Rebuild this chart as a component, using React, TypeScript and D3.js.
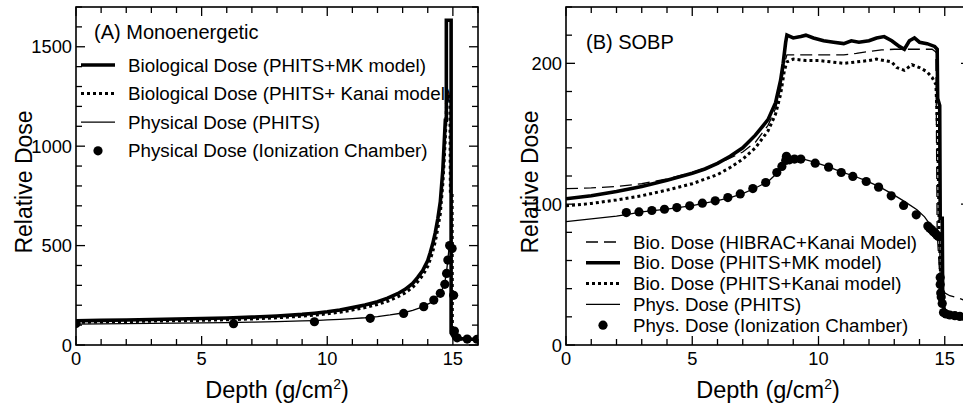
import React from "react";
import * as d3 from "d3";

// ---------- DATA ----------
// Panel A (Monoenergetic): [depth g/cm2, relative dose]
const monoBioMK: [number, number][] = [
  [0, 122], [1, 124], [2, 126], [3, 128], [4, 131], [5, 133], [6, 136], [7, 140], [8, 146],
  [9, 154], [9.5, 160], [10, 167], [10.5, 176], [11, 188], [11.5, 201], [12, 218], [12.4, 236],
  [12.8, 258], [13.1, 280], [13.4, 310], [13.6, 340], [13.8, 375], [14.0, 425], [14.1, 465],
  [14.2, 510], [14.3, 565], [14.4, 635], [14.5, 720], [14.55, 800], [14.6, 880], [14.65, 1005],
  [14.7, 1130], [14.74, 1130], [14.74, 1633], [14.93, 1633], [14.93, 60], [15.05, 35], [15.5, 30], [16, 28],
];
const monoBioKanai: [number, number][] = [
  [0, 114], [1, 116], [2, 118], [3, 120], [4, 122], [5, 124], [6, 127], [7, 131], [8, 137],
  [9, 145], [9.5, 150], [10, 157], [10.5, 165], [11, 176], [11.5, 188], [12, 204], [12.4, 220],
  [12.8, 242], [13.1, 262], [13.4, 290], [13.6, 318], [13.8, 350], [14.0, 395], [14.1, 430],
  [14.2, 470], [14.3, 520], [14.4, 585], [14.5, 660], [14.55, 735], [14.6, 810], [14.65, 920],
  [14.7, 1040], [14.76, 1250], [14.88, 1250], [14.9, 760], [14.97, 760], [14.98, 60],
  [15.05, 33], [15.5, 28], [16, 27],
];
const monoPhys: [number, number][] = [
  [0, 105], [1, 106], [2, 107.5], [3, 109], [4, 110], [5, 111.5], [6, 113], [7, 115], [8, 118],
  [9, 121], [9.5, 123], [10, 126], [10.5, 129], [11, 133], [11.5, 137], [12, 143], [12.5, 151],
  [13, 161], [13.4, 174], [13.8, 192], [14.1, 212], [14.3, 232], [14.5, 262], [14.6, 285],
  [14.7, 330], [14.75, 370], [14.8, 430], [14.85, 490], [14.9, 470], [14.93, 250], [14.96, 80],
  [15.05, 40], [15.5, 30], [16, 28],
];
const monoChamber: [number, number][] = [
  [0, 108], [6.27, 107], [9.49, 117], [11.71, 134], [13.04, 159], [13.84, 193], [14.24, 226],
  [14.5, 260], [14.68, 305], [14.75, 360], [14.8, 427], [14.87, 500], [14.97, 485], [15.03, 250],
  [15.06, 70], [15.17, 36], [15.57, 30], [15.96, 29],
];

// Panel B (SOBP)
const sobpBioHibrac: [number, number][] = [
  [0, 111], [1, 111.5], [2, 112.5], [3, 114.5], [4, 118], [5, 122.5], [6, 128.5], [7, 137],
  [7.5, 144], [8, 156], [8.3, 168], [8.5, 182], [8.65, 200], [8.75, 206], [9.5, 206], [10, 206],
  [11, 206], [11.5, 207], [12, 208.5], [12.5, 209.5], [13, 210], [13.5, 210], [14, 210],
  [14.5, 210], [14.65, 208], [14.7, 80], [14.8, 50], [14.9, 38], [15.2, 35], [15.6, 33], [16, 30],
];
const sobpBioMK: [number, number][] = [
  [0, 103.8], [1, 106], [2, 109], [3, 112.5], [4, 117], [5, 122], [5.5, 125], [6, 129], [6.5, 134],
  [7, 140], [7.5, 149], [8, 160], [8.3, 172], [8.5, 188], [8.6, 200], [8.7, 215], [8.75, 220],
  [9, 218], [9.3, 219], [9.5, 220], [9.8, 218], [10.2, 216], [10.6, 215], [11, 214], [11.3, 216],
  [11.6, 215], [12, 216], [12.3, 218], [12.6, 219], [12.9, 216], [13.2, 212], [13.4, 210],
  [13.6, 216], [13.8, 218], [14, 215], [14.3, 214], [14.6, 212], [14.7, 210], [14.72, 175],
  [14.8, 170], [14.82, 90], [14.9, 90], [14.92, 30], [15, 24], [15.5, 21], [16, 20],
];
const sobpBioKanai: [number, number][] = [
  [0, 98.8], [1, 100.5], [2, 103], [3, 106], [4, 110], [5, 114.5], [6, 121], [6.5, 126], [7, 132],
  [7.5, 140], [8, 152], [8.3, 164], [8.5, 178], [8.65, 195], [8.75, 201], [9, 203], [9.5, 202],
  [10, 202], [10.5, 201], [11, 200], [11.5, 201], [12, 202], [12.3, 203], [12.6, 202],
  [12.9, 201], [13.1, 197], [13.4, 195], [13.7, 199], [14, 197], [14.3, 194], [14.5, 190],
  [14.65, 185], [14.72, 150], [14.78, 80], [14.85, 40], [14.95, 25], [15.5, 21], [16, 20],
];
const sobpPhys: [number, number][] = [
  [0, 87.6], [1, 89.5], [2, 91.5], [2.5, 93], [3, 94.5], [4, 96.5], [5, 99], [6, 102.5],
  [6.5, 104.7], [7, 107.5], [7.5, 111.5], [8, 116], [8.3, 121], [8.5, 126], [8.7, 131],
  [8.9, 133], [9.3, 132.5], [9.8, 130], [10.4, 126.5], [10.9, 123], [11.4, 120], [11.9, 116.5],
  [12.4, 112.5], [12.9, 107.5], [13.4, 102], [13.9, 96], [14.2, 91], [14.4, 86], [14.6, 81],
  [14.75, 77], [14.8, 74], [14.82, 45], [14.9, 35], [15, 24], [15.5, 21], [16, 20],
];
const sobpChamber: [number, number][] = [
  [2.39, 94], [2.89, 94.5], [3.4, 95.5], [3.9, 96.4], [4.39, 97.6], [4.9, 98.8], [5.4, 100.7],
  [5.91, 102.4], [6.41, 104.7], [6.9, 107.3], [7.4, 111.1], [7.91, 115.4], [8.35, 122.5],
  [8.55, 126.8], [8.7, 131], [8.73, 134], [8.85, 131.5], [9.05, 132], [9.3, 132], [9.87, 129.1],
  [10.4, 126.3], [10.9, 122.5], [11.36, 119.7], [11.89, 116.1], [12.38, 112.1], [12.88, 105.9],
  [13.37, 99.1], [13.87, 92.4], [14.33, 84.5], [14.4, 83], [14.47, 82], [14.55, 80.5],
  [14.62, 79.5], [14.69, 78], [14.75, 77], [14.82, 48], [14.82, 43], [14.84, 37], [14.86, 34],
  [14.9, 29.5], [14.95, 23], [15.05, 22], [15.2, 21.3], [15.4, 20.8], [15.6, 20.3], [15.8, 20],
];

const monoLegend = [
  "Biological Dose (PHITS+MK model)",
  "Biological Dose (PHITS+ Kanai model)",
  "Physical Dose (PHITS)",
  "Physical Dose (Ionization Chamber)",
];
const sobpLegend = [
  "Bio. Dose (HIBRAC+Kanai Model)",
  "Bio. Dose (PHITS+MK model)",
  "Bio. Dose (PHITS+Kanai model)",
  "Phys. Dose (PHITS)",
  "Phys. Dose (Ionization Chamber)",
];
const xTickLabels = [0, 5, 10, 15];
const monoYTickLabels = [0, 500, 1000, 1500];
const sobpYTickLabels = [0, 100, 200];

// ---------- STYLES ----------
const FONT = "'Liberation Sans', Arial, Helvetica, sans-serif";
type Style = { w: number; dash?: string };
const sMK: Style = { w: 3.6 };
const sKanai: Style = { w: 3, dash: "3,3" };
const sPhys: Style = { w: 1.3 };
const sHibrac: Style = { w: 1.3, dash: "12,6" };
const DOT_R = 4.6;

type Series = { data: [number, number][]; style: Style };

interface PanelProps {
  x0: number; x1: number; y0: number; y1: number;
  xMax: number; yMax: number; yMinorStep: number;
  yLabels: number[];
  series: Series[];
  points: [number, number][];
  title: string; titleX: number; titleY: number;
  legend: string[]; legendStyles: (Style | null)[];
  legX: number; legTextX: number; legY: number; legDy: number; legFont: number;
  yTitleX: number; xTitleX: number;
}

function Panel(p: PanelProps) {
  const x = d3.scaleLinear().domain([0, p.xMax]).range([p.x0, p.x1]);
  const y = d3.scaleLinear().domain([0, p.yMax]).range([p.y1, p.y0]);
  const xt = d3.range(0, p.xMax + 0.001, 1);
  const yt = d3.range(0, p.yMax + 0.001, p.yMinorStep);
  const clipId = "clip" + p.x0 + "_" + p.yMax;
  const line = d3.line<[number, number]>().x((d) => x(d[0])).y((d) => y(d[1]));
  const isMajorX = (v: number) => xTickLabels.includes(v);
  const isMajorY = (v: number) => p.yLabels.includes(v);
  return (
    <g fontFamily={FONT}>
      <defs>
        <clipPath id={clipId}>
          <rect x={p.x0} y={p.y0} width={p.x1 - p.x0} height={p.y1 - p.y0} />
        </clipPath>
      </defs>
      <g clipPath={`url(#${clipId})`}>
        {p.series.map((s, i) => (
          <path key={i} d={line(s.data) || ""} fill="none" stroke="#000"
            strokeWidth={s.style.w} strokeDasharray={s.style.dash}
            strokeLinejoin="miter" strokeMiterlimit={2} />
        ))}
        {p.points.map((d, i) => (
          <circle key={i} cx={x(d[0])} cy={y(d[1])} r={DOT_R} fill="#000" />
        ))}
      </g>
      {xt.map((v) => {
        const L = isMajorX(v) ? 9 : 6;
        return (
          <g key={"x" + v} stroke="#000" strokeWidth={1.3}>
            <line x1={x(v)} x2={x(v)} y1={p.y1} y2={p.y1 - L} />
            <line x1={x(v)} x2={x(v)} y1={p.y0} y2={p.y0 + L} />
          </g>
        );
      })}
      {yt.map((v) => {
        const L = isMajorY(v) ? 9 : 6;
        return (
          <g key={"y" + v} stroke="#000" strokeWidth={1.3}>
            <line x1={p.x0} x2={p.x0 + L} y1={y(v)} y2={y(v)} />
            <line x1={p.x1} x2={p.x1 - L} y1={y(v)} y2={y(v)} />
          </g>
        );
      })}
      <rect x={p.x0} y={p.y0} width={p.x1 - p.x0} height={p.y1 - p.y0}
        fill="none" stroke="#000" strokeWidth={1.6} />
      {xTickLabels.map((v) => (
        <text key={"xl" + v} x={x(v)} y={p.y1 + 20} fontSize={18.3} textAnchor="middle">{v}</text>
      ))}
      {p.yLabels.map((v) => (
        <text key={"yl" + v} x={p.x0 - 4} y={y(v) + 6.5} fontSize={18.3} textAnchor="end">{v}</text>
      ))}
      <text x={p.xTitleX} y={398} fontSize={23.5} textAnchor="middle">
        Depth (g/cm<tspan fontSize={14} dy={-9}>2</tspan><tspan dy={9}>)</tspan>
      </text>
      <text transform={`translate(${p.yTitleX},${(p.y0 + p.y1) / 2 + 6}) rotate(-90)`}
        fontSize={23} textAnchor="middle">Relative Dose</text>
      <text x={p.titleX} y={p.titleY} fontSize={20}>{p.title}</text>
      {p.legend.map((t, i) => {
        const cy = p.legY + i * p.legDy;
        const st = p.legendStyles[i];
        return (
          <g key={"lg" + i}>
            {st ? (
              <line x1={p.legX} x2={p.legX + 34} y1={cy} y2={cy} stroke="#000"
                strokeWidth={st.w} strokeDasharray={st.dash} />
            ) : (
              <circle cx={p.legX + 17} cy={cy} r={DOT_R} fill="#000" />
            )}
            <text x={p.legTextX} y={cy + 6.5} fontSize={p.legFont}>{t}</text>
          </g>
        );
      })}
    </g>
  );
}

export default function App() {
  return (
    <svg width={963} height={408} style={{ position: "absolute", left: 0, top: 0, background: "#fff" }}>
      <rect x={0} y={0} width={963} height={408} fill="#fff" />
      <Panel
        x0={76} x1={478} y0={7} y1={345} xMax={16} yMax={1700} yMinorStep={100}
        yLabels={monoYTickLabels}
        series={[
          { data: monoPhys, style: sPhys },
          { data: monoBioKanai, style: sKanai },
          { data: monoBioMK, style: sMK },
        ]}
        points={monoChamber}
        title="(A) Monoenergetic" titleX={94} titleY={39}
        legend={monoLegend} legendStyles={[sMK, sKanai, sPhys, null]}
        legX={81} legTextX={128} legY={65} legDy={28.6} legFont={18.8}
        yTitleX={32} xTitleX={277}
      />
      <g transform="translate(490,0)">
        <Panel
          x0={76} x1={480} y0={7} y1={345} xMax={16} yMax={240} yMinorStep={20}
          yLabels={sobpYTickLabels}
          series={[
            { data: sobpPhys, style: sPhys },
            { data: sobpBioHibrac, style: sHibrac },
            { data: sobpBioKanai, style: sKanai },
            { data: sobpBioMK, style: sMK },
          ]}
          points={sobpChamber}
          title="(B) SOBP" titleX={96} titleY={49}
          legend={sobpLegend} legendStyles={[sHibrac, sMK, sKanai, sPhys, null]}
          legX={96} legTextX={143} legY={242} legDy={20.8} legFont={18.7}
          yTitleX={48} xTitleX={278}
        />
      </g>
    </svg>
  );
}
